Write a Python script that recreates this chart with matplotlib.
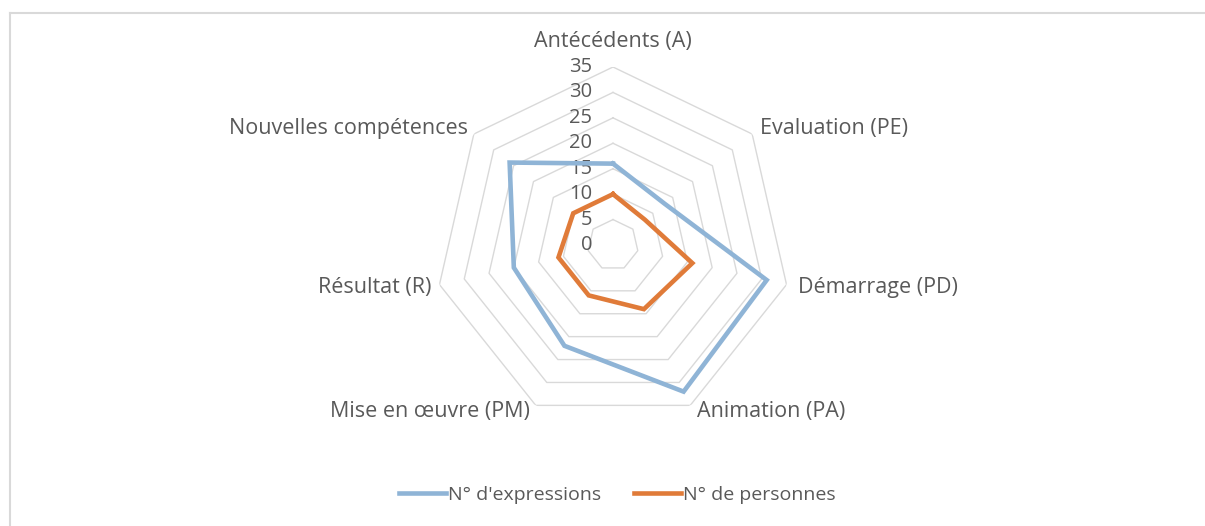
import numpy as np
import matplotlib
matplotlib.use("Agg")
import matplotlib.pyplot as plt
from matplotlib.lines import Line2D

plt.rcParams['font.family'] = ['Open Sans', 'DejaVu Sans']

categories = ["Antécédents (A)", "Evaluation (PE)", "Démarrage (PD)", "Animation (PA)",
              "Mise en œuvre (PM)", "Résultat (R)", "Nouvelles compétences"]
expressions = [16, 13, 31, 32, 22, 20, 26]
personnes = [10, 8, 16, 14, 11, 11, 10]
series_names = ["N° d'expressions", "N° de personnes"]
rticks = [0, 5, 10, 15, 20, 25, 30, 35]

W, H = 1205, 526
fig = plt.figure(figsize=(W / 100, H / 100), dpi=100)
fig.patch.set_facecolor("white")

# outer chart frame (top and left visible)
fig.add_artist(Line2D([10 / W, 1], [1 - 13 / H, 1 - 13 / H], color="#d9d9d9", lw=1.5))
fig.add_artist(Line2D([10 / W, 10 / W], [0, 1 - 13 / H], color="#d9d9d9", lw=1.5))

cx, cy, R = 613, 245, 178
ax = fig.add_axes([(cx - R) / W, (H - cy - R) / H, 2 * R / W, 2 * R / H], projection="polar")
ax.set_theta_offset(np.pi / 2)
ax.set_theta_direction(-1)
ax.set_ylim(0, rticks[-1])
ax.grid(False)
ax.spines["polar"].set_visible(False)
ax.set_xticks([])
ax.set_yticks([])
ax.patch.set_alpha(0)

n = len(categories)
theta = np.linspace(0, 2 * np.pi, n, endpoint=False)
theta_c = np.append(theta, theta[0])

text_color = "#595959"
fs_cat = 15.5
fs_tick = 14.5
fs_leg = 14

for r in rticks[1:]:
    ax.plot(theta_c, [r] * (n + 1), color="#d9d9d9", lw=1.0, zorder=1)

for r in rticks:
    ax.annotate(str(r), xy=(0, r), xytext=(-21, 0), textcoords="offset pixels",
                ha="right", va="center", fontsize=fs_tick, color=text_color)

offsets = [(0, 26, "center"), (8, 6, "left"), (11, -3, "left"), (7, -6, "left"),
           (-6, -6, "right"), (-8, -3, "right"), (-6, 6, "right")]
for t, lab, (dx, dy, ha) in zip(theta, categories, offsets):
    ax.annotate(lab, xy=(t, rticks[-1]), xytext=(dx, dy), textcoords="offset pixels",
                ha=ha, va="center", fontsize=fs_cat, color=text_color, annotation_clip=False)

blue = "#8FB4D6"
orange = "#E07B39"
l1, = ax.plot(theta_c, expressions + expressions[:1], color=blue, lw=3.3, zorder=3,
              solid_joinstyle="miter", label=series_names[0])
l2, = ax.plot(theta_c, personnes + personnes[:1], color=orange, lw=3.3, zorder=4,
              solid_joinstyle="miter", label=series_names[1])

leg = fig.legend(handles=[l1, l2], loc="center", bbox_to_anchor=(617.5 / W, 1 - 495 / H),
                 ncol=2, frameon=False, fontsize=fs_leg, handlelength=2.4, handletextpad=0.12,
                 columnspacing=1.7, labelcolor=text_color)

fig.savefig("out.png", dpi=100, facecolor="white")
